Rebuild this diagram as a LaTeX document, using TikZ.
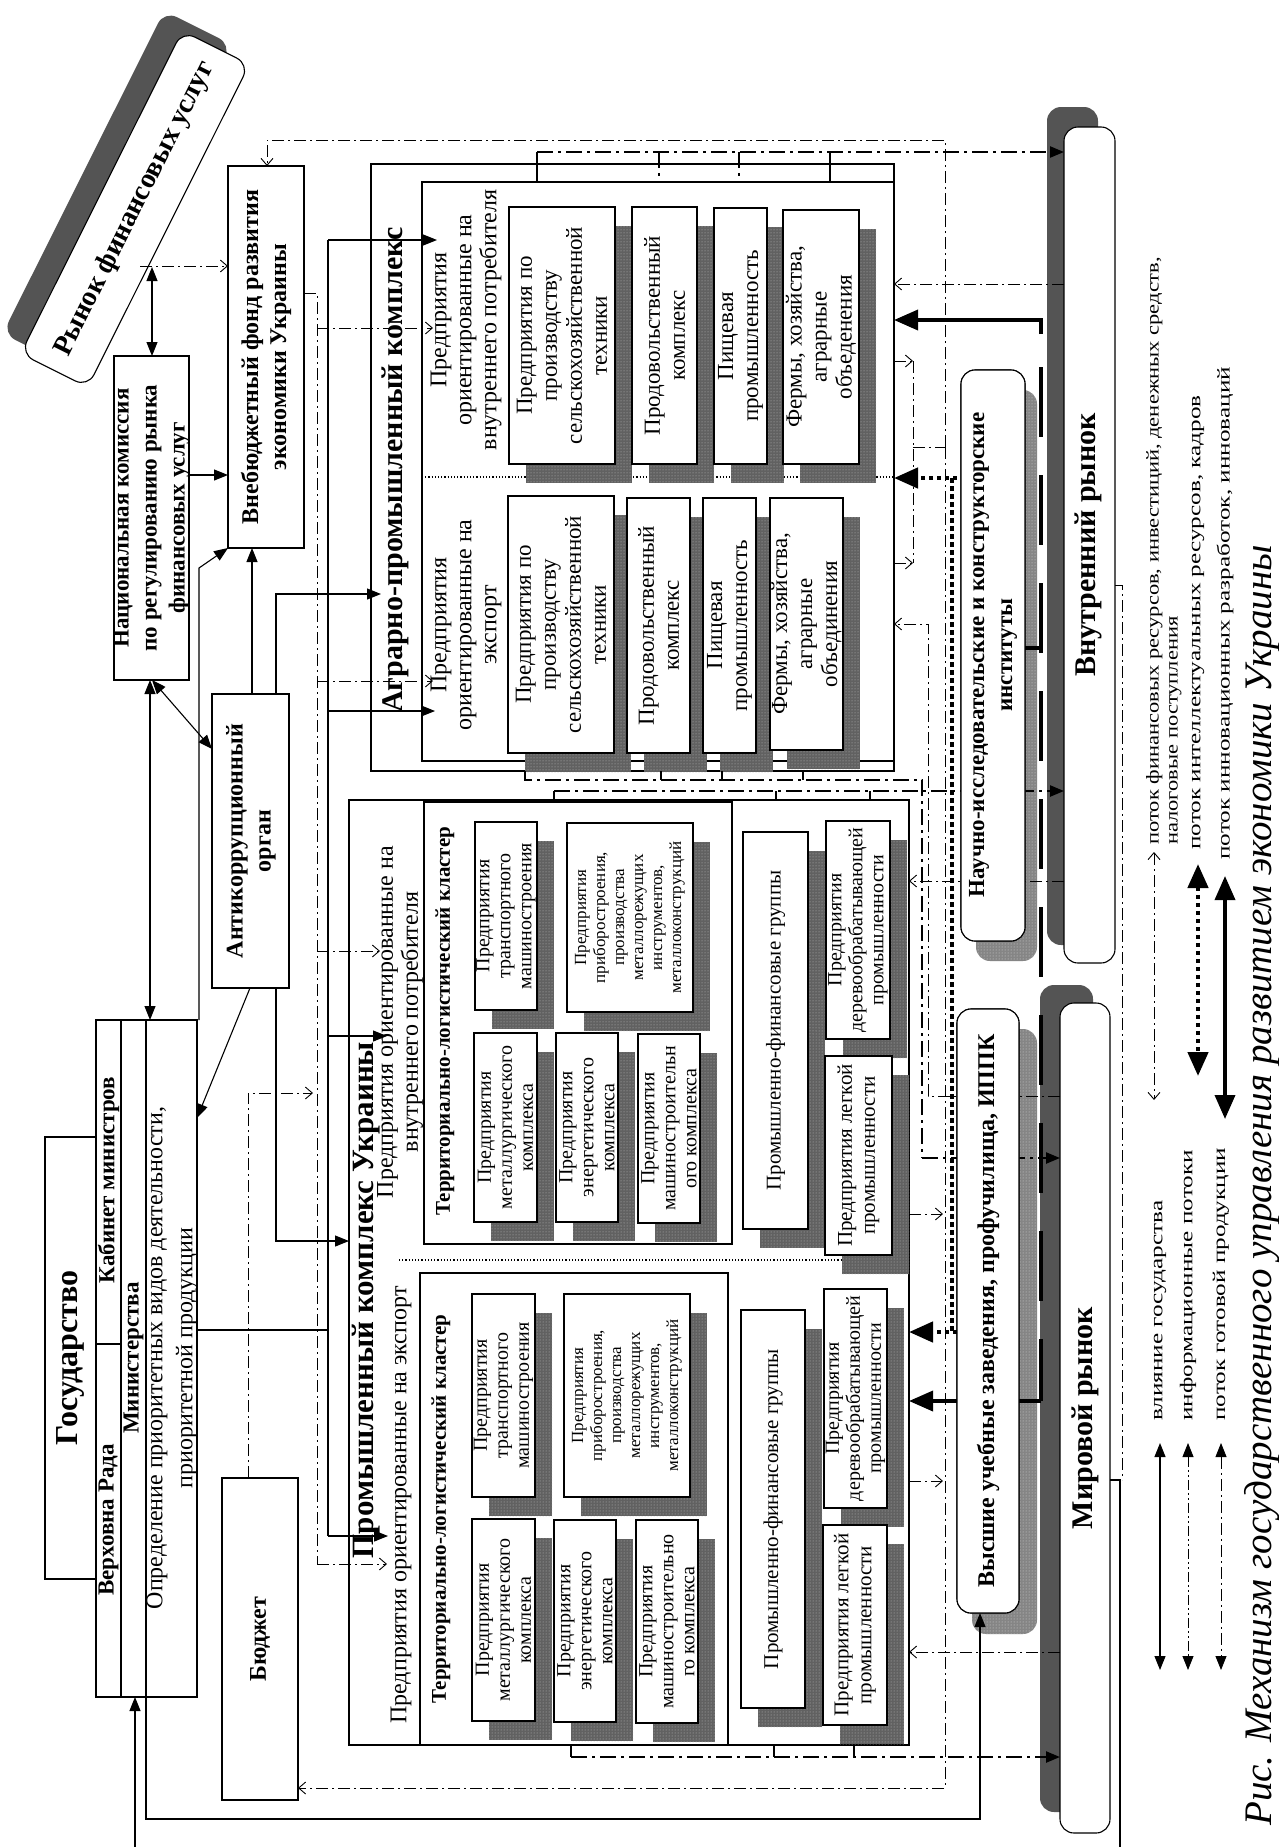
\documentclass[tikz,border=0pt]{standalone}
\usepackage{fontspec}
\setmainfont{Liberation Serif}
\usetikzlibrary{arrows.meta,fit,patterns}
\newcommand\myfs[2]{\fontsize{#1}{#2}\selectfont}
\newcommand\myfA{\fontsize{23}{25}\selectfont}
\newcommand\myfP{\fontsize{20}{21}\selectfont}
\newcommand\myfPs{\fontsize{17}{19}\selectfont}
\newcommand\myfPf{\fontsize{21}{23}\selectfont}
\newcommand\shbox[7][]{%
  \fill[shd] ({#3+17},{#4+19}) rectangle ({#5+17},{#6+19});
  \node[box, fit={(#3,#4)(#5,#6)}] (#2) {};
  \node[tx,#1] at (#2.center) {#7};}
\newcommand\niibox{%
  \node[box, rounded corners=14pt, fit={(961,370)(1025,941)}] (nii) {};
  \node[tx, font=\myfs{23}{28}\bfseries] at (993,655) {Научно-исследовательские и конструкторские\\институты};
  \node[box, rounded corners=14pt, fit={(957,1009)(1019,1613)}] (vuz) {};
  \node[tx, font=\myfs{24}{26}\bfseries] at (988,1311) {Высшие учебные заведения, профучилища, ИППК};}
\begin{document}
\begin{tikzpicture}[x=1pt,y=-1pt]
\tikzset{
 box/.style={draw, line width=1.1pt, fill=white, inner sep=0pt, outer sep=0pt},
 shd/.style={fill=black!62, postaction={pattern=dots, pattern color=black!25}},
 shd2/.style={fill=black!48, postaction={pattern=dots, pattern color=black!15}},
 tx/.style={rotate=90, align=center, inner sep=0pt},
 sol/.style={line width=1.1pt},
 fin/.style={line width=0.9pt, dash pattern=on 12pt off 4pt on 2pt off 4pt},
 fin2/.style={line width=0.9pt, dash pattern=on 10pt off 3pt on 2pt off 3pt on 2pt off 3pt},
 inf/.style={line width=2.3pt, dash pattern=on 16pt off 5pt on 3pt off 5pt},
 intl/.style={line width=4.5pt, dash pattern=on 4.5pt off 3.5pt},
 prod/.style={line width=3.6pt},
 oa/.style={-{Straight Barb[length=7pt,width=12pt]}},
 oab/.style={{Straight Barb[length=7pt,width=12pt]}-{Straight Barb[length=7pt,width=12pt]}},
 fa/.style={-{Triangle[length=14pt,width=11pt]}},
 fab/.style={{Triangle[length=14pt,width=11pt]}-{Triangle[length=14pt,width=11pt]}},
 FA/.style={-{Triangle[length=24pt,width=20pt]}},
 FAB/.style={{Triangle[length=24pt,width=20pt]}-{Triangle[length=24pt,width=20pt]}},
 leg/.style={rotate=90, xscale=1.4, anchor=west, inner sep=0pt, font=\myfs{18}{19}},
}
\useasboundingbox[fill=white] (0,0) rectangle (1279,1847);

% ---------- Рынок финансовых услуг
\node[fill=black!67, rounded corners=14pt, rotate=63.4, minimum width=361pt, minimum height=75pt, inner sep=0pt] (rfs) at (117,189) {};
\node[box, rounded corners=14pt, rotate=63.4, minimum width=361pt, minimum height=75pt, font=\myfs{28}{30}\bfseries] (rfu) at (135,209) {Рынок финансовых услуг};

% ---------- left column
\node[box, fit={(114,356)(189,680)}] (nat) {};
\node[tx, font=\myfs{23}{28}\bfseries] at (nat.center) {Национальная комиссия\\по регулированию рынка\\финансовых услуг};
\node[box, fit={(228,166)(304,548)}] (vbf) {};
\node[tx, font=\myfs{24}{28}\bfseries] at (vbf.center) {Внебюджетный фонд развития\\экономики Украины};
\node[box, fit={(212,694)(289,988)}] (anti) {};
\node[tx, font=\myfs{24}{28}\bfseries] at (251,841) {Антикоррупционный\\орган};
\node[box, fit={(45,1137)(96,1579)}] (gos) {};
\node[tx, font=\myfs{32}{34}\bfseries] at (gos.center) {Государство};
\node[box, fit={(96,1020)(197,1697)}] (gov) {};
\draw[sol] (121,1020) -- (121,1697) (146,1020) -- (146,1697) (96,1344) -- (121,1344);
\node[tx, font=\myfs{23}{25}\bfseries] at (108.5,1180) {Кабинет министров};
\node[tx, font=\myfs{23}{25}\bfseries] at (108.5,1520) {Верховна Рада};
\node[tx, font=\myfs{23}{25}\bfseries] at (133.5,1358) {Министерства};
\node[tx, font=\myfs{24}{30}] at (172,1358) {Определение приоритетных видов деятельности,\\приоритетной продукции};
\node[box, fit={(222,1478)(298,1800)}] (bud) {};
\node[tx, font=\myfs{24}{26}\bfseries] at (bud.center) {Бюджет};

% ---------- Аграрно-промышленный комплекс
\node[box, fit={(371,164)(894,771)}] (agro) {};
\node[box, fit={(422,182)(894,761)}] (agroin) {};
\draw[dotted, line width=1.2pt] (422,477) -- (894,477);
\node[tx, font=\myfs{30}{32}\bfseries] at (395,470) {Аграрно-промышленный комплекс};
\node[tx, font=\myfs{24}{25}] at (466,320) {Предприятия\\ориентированные на\\внутреннего потребителя};
\node[tx, font=\myfs{24}{25}] at (466,625) {Предприятия\\ориентированные на\\экспорт};
\shbox[font=\myfA]{a1}{509}{207}{615}{464}{Предприятия по\\производству\\сельскохозяйственной\\техники}
\shbox[font=\myfA]{a2}{632}{207}{697}{464}{Продовольственный\\комплекс}
\shbox[font=\myfA]{a3}{714}{208}{767}{464}{Пищевая\\промышленность}
\shbox[font=\myfA]{a4}{783}{210}{859}{464}{Фермы, хозяйства,\\аграрные\\объеденения}
\shbox[font=\myfA]{b1}{508}{496}{614}{753}{Предприятия по\\производству\\сельскохозяйственной\\техники}
\shbox[font=\myfA]{b2}{627}{498}{690}{753}{Продовольственный\\комплекс}
\shbox[font=\myfA]{b3}{703}{498}{756}{753}{Пищевая\\промышленность}
\shbox[font=\myfA]{b4}{770}{498}{843}{750}{Фермы, хозяйства,\\аграрные\\объединения}

% ---------- Промышленный комплекс Украины
\node[box, fit={(349,800)(909,1745)}] (prom) {};
\node[box, fit={(424,802)(732,1244)}] (cl1) {};
\node[box, fit={(420,1273)(728,1745)}] (cl2) {};
\draw[dotted, line width=1.2pt] (399,1260) -- (909,1260);
\node[tx, font=\myfs{31}{33}\bfseries] at (366,1300) {Промышленный комплекс Украины};
\node[tx, font=\myfs{24}{25}] at (400,1022) {Предприятия ориентированные на\\внутреннего потребителя};
\node[tx, font=\myfs{24}{25}] at (401,1505) {Предприятия ориентированные на экспорт};
\node[tx, font=\myfs{21}{23}\bfseries] at (445,1021) {Территориально-логистический кластер};
\node[tx, font=\myfs{21}{23}\bfseries] at (441,1509) {Территориально-логистический кластер};
\shbox[font=\myfP]{p1}{475}{822}{537}{1010}{Предприятия\\транспортного\\машиностроения}
\shbox[font=\myfPs]{p2}{567}{823}{693}{1012}{Предприятия\\приборостроения,\\производства\\металлорежущих\\инструментов,\\металлоконструкций}
\shbox[font=\myfP]{p3}{474}{1033}{537}{1222}{Предприятия\\металлургического\\комплекса}
\shbox[font=\myfP]{p4}{556}{1033}{618}{1222}{Предприятия\\энергетического\\комплекса}
\shbox[font=\myfP]{p5}{638}{1034}{700}{1223}{Предприятия\\машиностроительн\\ого комплекса}
\shbox[font=\myfPf]{p6}{743}{832}{808}{1229}{Промышленно-финансовые группы}
\shbox[font=\myfP]{p7}{826}{821}{890}{1039}{Предприятия\\деревообрабатывающей\\промышленности}
\shbox[font=\myfPf]{p8}{825}{1056}{892}{1255}{Предприятия легкой\\промышленности}
\shbox[font=\myfP]{q1}{472}{1294}{535}{1497}{Предприятия\\транспортного\\машиностроения}
\shbox[font=\myfPs]{q2}{564}{1294}{690}{1497}{Предприятия\\приборостроения,\\производства\\металлорежущих\\инструментов,\\металлоконструкций}
\shbox[font=\myfP]{q3}{472}{1519}{535}{1721}{Предприятия\\металлургического\\комплекса}
\shbox[font=\myfP]{q4}{554}{1520}{616}{1722}{Предприятия\\энергетического\\комплекса}
\shbox[font=\myfP]{q5}{636}{1520}{698}{1723}{Предприятия\\машиностроительно\\го комплекса}
\shbox[font=\myfPf]{q6}{741}{1310}{805}{1708}{Промышленно-финансовые группы}
\shbox[font=\myfP]{q7}{824}{1289}{887}{1508}{Предприятия\\деревообрабатывающей\\промышленности}
\shbox[font=\myfPf]{q8}{823}{1525}{887}{1725}{Предприятия легкой\\промышленности}

% ---------- markets and institutes (shadows first)
\fill[black!67, rounded corners=14pt] (1047,107) rectangle (1098,945);
\node[box, rounded corners=14pt, fit={(1064,127)(1115,963)}] (vr) {};
\node[tx, font=\myfs{30}{32}\bfseries] at (1088,545) {Внутренний рынок};
\fill[black!67, rounded corners=14pt] (1040,985) rectangle (1093,1812);
\node[box, rounded corners=14pt, fit={(1060,1003)(1110,1833)}] (mr) {};
\node[tx, font=\myfs{30}{32}\bfseries] at (1085,1418) {Мировой рынок};
\fill[shd2, rounded corners=14pt] (976,390) rectangle (1037,961);
\fill[shd2, rounded corners=14pt] (972,1029) rectangle (1037,1634);
\niibox

% ---------- connectors: state influence (solid)
\draw[sol,fab] (152,267) -- (152,0 |- nat.north);
\draw[sol,fa] (nat.east |- 0,475) -- (vbf.west |- 0,475);
\draw[sol,fab] (150,0 |- nat.south) -- (150,0 |- gov.north);
\draw[sol,fab] (152,0 |- nat.south) -- (anti.west |- 0,749);
\draw[sol,fa] (252,0 |- anti.north) -- (252,0 |- vbf.south);
\draw[sol,fa] (250,0 |- anti.south) -- (gov.east |- 0,1118);
\draw[sol,fa] (199,0 |- gov.north) -- (199,568) -- (vbf.south west);
\draw[sol,fa] (276,0 |- anti.north) -- (276,594) -- (381,594);
\draw[sol,fa] (276,0 |- anti.south) -- (276,1241) -- (prom.west |- 0,1241);
\draw[sol] (gov.east |- 0,1330) -- (328,1330);
\draw[sol] (328,240) -- (328,1536);
\draw[sol,fa] (328,240) -- (437,240);
\draw[sol,fa] (328,711) -- (435,711);
\draw[sol,fa] (328,1036) -- (387,1036);
\draw[sol,fa] (328,1536) -- (388,1536);
\draw[sol,fa] (146,0 |- gov.south) -- (146,1819) -- (980,1819) -- (980,0 |- vuz.south);
\draw[sol,fa] (135,1847) -- (135,0 |- gov.south);
\draw[sol] (1110,1480) -- (1120,1480) -- (1120,1847);

% ---------- financial flows (thin dash-dot)
\draw[fin,oa] (140,266) -- (vbf.west |- 0,266);
\draw[fin] (vbf.east |- 0,293) -- (317,293) -- (317,1564);
\draw[fin,oa] (317,328) -- (433,328);
\draw[fin,oa] (317,681) -- (433,681);
\draw[fin,oa] (317,951) -- (380,951);
\draw[fin,oa] (317,1564) -- (387,1564);
\draw[fin,oa] (248,0 |- bud.north) -- (248,1093) -- (313,1093);
\draw[fin,oa] (945,447) -- (945,140) -- (267,140) -- (267,0 |- vbf.north);
\draw[fin,oa] (945,447) -- (945,1788) -- (bud.east |- 0,1788);
\draw[fin,oa] (agro.east |- 0,361) -- (913,361);
\draw[fin,oa] (agro.east |- 0,563) -- (913,563);
\draw[fin] (913,361) -- (913,563) (913,447) -- (945,447);
\draw[fin,oa] (prom.east |- 0,1214) -- (943,1214);
\draw[fin,oa] (prom.east |- 0,1481) -- (943,1481);
\draw[fin,oa] (vr.west |- 0,284) -- (agro.east |- 0,284);
\draw[fin,oa] (mr.west |- 0,1096) -- (928,1096) -- (928,624) -- (agro.east |- 0,624);
\draw[fin,oa] (vr.west |- 0,881) -- (prom.east |- 0,881);
\draw[fin,oa] (mr.west |- 0,1652) -- (prom.east |- 0,1652);
\draw[fin] (vr.east |- 0,585) -- (1122,585) -- (1122,1480);

% ---------- information flows (heavy dash-dot)
\draw[sol] (537,152) -- (537,182) (830,152) -- (830,182);
\draw[inf] (659,152) -- (659,182) (739,152) -- (739,182);
\draw[inf,fa] (537,152) -- (vr.west |- 0,152);
\draw[inf] (661,771) -- (661,780) (722,771) -- (722,780) (803,771) -- (803,780);
\draw[inf] (525,771) -- (525,780) -- (922,780) -- (922,1158);
\draw[inf,fa] (922,1158) -- (mr.west |- 0,1158);
\draw[sol] (554,791) -- (554,800) (776,791) -- (776,800) (870,791) -- (870,800);
\draw[inf,fa] (554,791) -- (vr.west |- 0,791);
\draw[sol] (571,1745) -- (571,1757) (774,1745) -- (774,1757) (854,1745) -- (854,1757);
\draw[inf,fa] (571,1757) -- (mr.west |- 0,1757);

% ---------- intellectual resources (thick dotted)
\draw[intl] (952,478) -- (952,1332);
\draw[intl,FA] (957,478) -- (agro.east |- 0,478);
\draw[intl,FA] (957,1332) -- (prom.east |- 0,1332);

% ---------- product flows (thick)
\draw[prod,FA] (1041,334) -- (1041,320) -- (agro.east |- 0,320);
\draw[prod, dash pattern=on 70pt off 38pt] (1041,367) -- (1041,1401);
\draw[prod,FA] (1041,1401) -- (prom.east |- 0,1401);

% redraw institutes on top
\niibox
\draw[prod] (1025,648) -- (1041,648);
\draw[prod] (1019,1401) -- (1041,1401);

% ---------- legend
\draw[sol,fab] (1160,1443) -- (1160,1670);
\draw[fin2,fab] (1188,1443) -- (1188,1670);
\draw[fin,fab] (1221,1443) -- (1221,1670);
\node[leg] at (1160,1421) {влияние государства};
\node[leg] at (1188,1421) {информационные потоки};
\node[leg] at (1221,1421) {поток готовой продукции};
\draw[fin,oab] (1154,852) -- (1154,1100);
\draw[intl,FAB] (1198,864) -- (1198,1076);
\draw[prod,FAB] (1225,876) -- (1225,1119);
\node[rotate=90, xscale=1.25, anchor=north west, align=left, inner sep=0pt, font=\myfs{18}{19}] at (1146,845) {поток финансовых ресурсов, инвестиций, денежных средств,\\налоговые поступления};
\node[leg] at (1198,850) {поток интеллектуальных ресурсов, кадров};
\node[leg] at (1225,860) {поток инновационных разработок, инноваций};
\node[rotate=90, anchor=west, inner sep=0pt, font=\myfs{39}{41}\itshape] at (1262,1826) {Рис. Механизм государственного управления развитием экономики Украины};
\end{tikzpicture}
\end{document}
